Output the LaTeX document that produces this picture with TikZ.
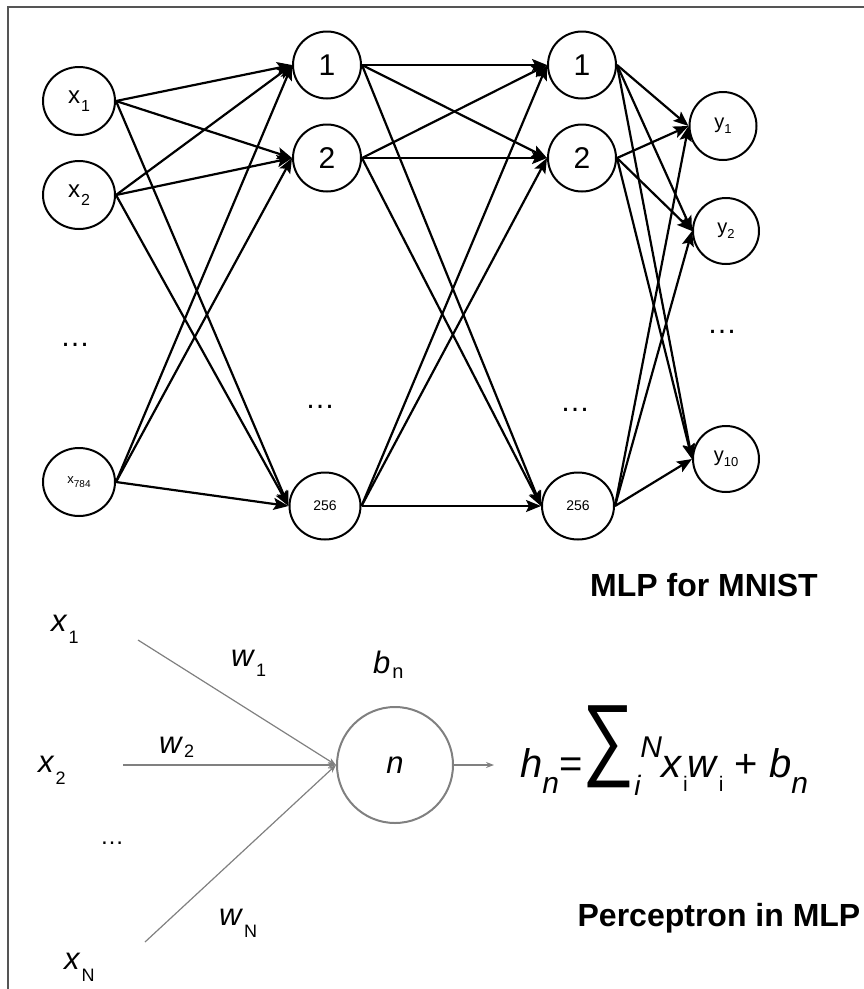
\documentclass[tikz,border=0pt]{standalone}
\usepackage{fontspec}
\setmainfont{Liberation Sans}
\usepackage{graphicx}
\usetikzlibrary{arrows.meta,shapes.geometric}

\definecolor{wire}{HTML}{808080}
\definecolor{framegray}{HTML}{555555}

% subscript / superscript set low or high: raise, size, text
\newcommand{\lsub}[3]{\raisebox{#1}{\fontsize{#2}{#2}\selectfont #3}}

\begin{document}
\begin{tikzpicture}[
	>={Stealth[length=15pt,width=12pt,inset=3pt]},
	line width=2.2pt,
	x=1pt,y=-1pt,
	font=\fontsize{24}{24}\selectfont,
	neuron/.style={ellipse, draw, line width=2pt, inner sep=0pt, minimum width=68pt, minimum height=67pt},
	digit/.style={font=\fontsize{30}{30}\selectfont},
	tiny/.style={font=\fontsize{14}{14}\selectfont},
	dots/.style={font=\fontsize{30}{30}\selectfont},
	caption/.style={font=\fontsize{32}{32}\selectfont\bfseries},
	frame/.style={framegray, line width=2pt},
	wire edge/.style={wire, line width=1.2pt, -{Stealth[length=8pt,width=6pt]}},
	perceptron/.style={circle, draw=wire, line width=2pt, inner sep=0pt, minimum size=116pt, font=\fontsize{31}{31}\selectfont\itshape},
	weight/.style={anchor=base west, inner sep=0pt, font=\fontsize{31}{31}\selectfont}
	]
\useasboundingbox (0,0) rectangle (864,989);

% frame
\draw[frame] (8,989) -- (8,6.5) -- (864,6.5);

% MLP for MNIST
\node[neuron, minimum width=72pt, minimum height=68pt] (x_1)   at (79,101) {x\kern1pt\lsub{-8pt}{16}{1}};
\node[neuron, minimum width=72pt, minimum height=68pt] (x_2)   at (79,195) {x\kern1pt\lsub{-8pt}{16}{2}};
\node[dots] (x_dots) at (75,345) {…};
\node[neuron, minimum width=72pt, minimum height=68pt] (x_784) at (79,482) {\fontsize{13}{13}\selectfont x\lsub{-4pt}{10}{784}};

\node[neuron, digit] (h1_1)   at (327,65)  {1};
\node[neuron, digit] (h1_2)   at (327,158) {2};
\node[dots] (h1_dots) at (320,407) {…};
\node[neuron, tiny, minimum width=71pt] (h1_256) at (325,506) {256};

\node[neuron, digit] (h2_1)   at (582,65)  {1};
\node[neuron, digit] (h2_2)   at (582,158) {2};
\node[dots] (h2_dots) at (575,410) {…};
\node[neuron, tiny, minimum width=72pt] (h2_256) at (578,506) {256};

\node[neuron, minimum width=67pt, minimum height=68pt, font=\fontsize{20}{20}\selectfont] (y_1)  at (723,126) {y\lsub{-5pt}{13}{1}};
\node[neuron, minimum width=66pt, minimum height=66pt, font=\fontsize{20}{20}\selectfont] (y_2)  at (726,231) {y\lsub{-5pt}{13}{2}};
\node[dots] (y_dots) at (722,332) {…};
\node[neuron, minimum width=66pt, minimum height=66pt, font=\fontsize{20}{20}\selectfont] (y_10) at (726,459) {y\lsub{-5pt}{13}{10}};

\foreach \a in {x_1,x_2,x_784}
	\foreach \b in {h1_1,h1_2,h1_256}
		\draw[->] (\a.east) -- (\b.west);
\foreach \a in {h1_1,h1_2,h1_256}
	\foreach \b in {h2_1,h2_2,h2_256}
		\draw[->] (\a.east) -- (\b.west);
\foreach \a in {h2_1,h2_2,h2_256}
	\foreach \b in {y_1,y_2,y_10}
		\draw[->] (\a.east) -- (\b.west);

\node[caption] (mlp_title) at (704,585) {MLP for MNIST};

% Perceptron in MLP
\node[perceptron] (n) at (395,765) {n};

\coordinate (in_1) at (138,640);
\coordinate (in_2) at (123,765);
\coordinate (in_N) at (145,942);
\coordinate (h_out) at (494,765);

\node[weight] (lx_1) at (50,631) {\textit{x}\kern1pt\lsub{-12pt}{18}{1}};
\node[weight] (lx_2) at (37,772) {\textit{x}\kern1pt\lsub{-12pt}{18}{2}};
\node[font=\fontsize{24}{24}\selectfont] (lx_dots) at (112,843) {…};
\node[weight] (lx_N) at (63,969) {\textit{x}\kern1pt\lsub{-12pt}{18}{N}};

\node[weight] (lw_1) at (230,666) {\textit{w}\kern1pt\lsub{-10pt}{18}{1}};
\node[weight] (lw_2) at (158,753) {\textit{w}\kern1pt\lsub{-4pt}{18}{2}};
\node[weight] (lw_N) at (218,925) {\textit{w}\kern1pt\lsub{-12pt}{18}{N}};
\node[weight] (lb_n) at (372,673) {\textit{b}\kern2pt\lsub{-5pt}{20}{n}};

\draw[wire edge] (in_1) -- (n.west);
\draw[wire edge] (in_2) -- (n.west);
\draw[wire edge] (in_N) -- (n.west);
\draw[wire edge] (n.east) -- (h_out);

\node[anchor=base west, inner sep=0pt, font=\fontsize{40}{40}\selectfont] (h_sum) at (519,777)
	{\textit{h}\lsub{-16pt}{30}{\textit{n}}=\raisebox{9pt}{\scalebox{1}[1.25]{\fontsize{73}{73}\selectfont ∑}}\lsub{-18pt}{28}{\textit{i}}\kern-1pt\lsub{20pt}{30}{\textit{N}}\textit{x}\lsub{-14pt}{21}{i}\textit{w}\lsub{-14pt}{21}{i} + \textit{b}\lsub{-16pt}{30}{\textit{n}}};

\node[caption] (perc_title) at (719,918) {Perceptron in MLP};

\end{tikzpicture}
\end{document}
